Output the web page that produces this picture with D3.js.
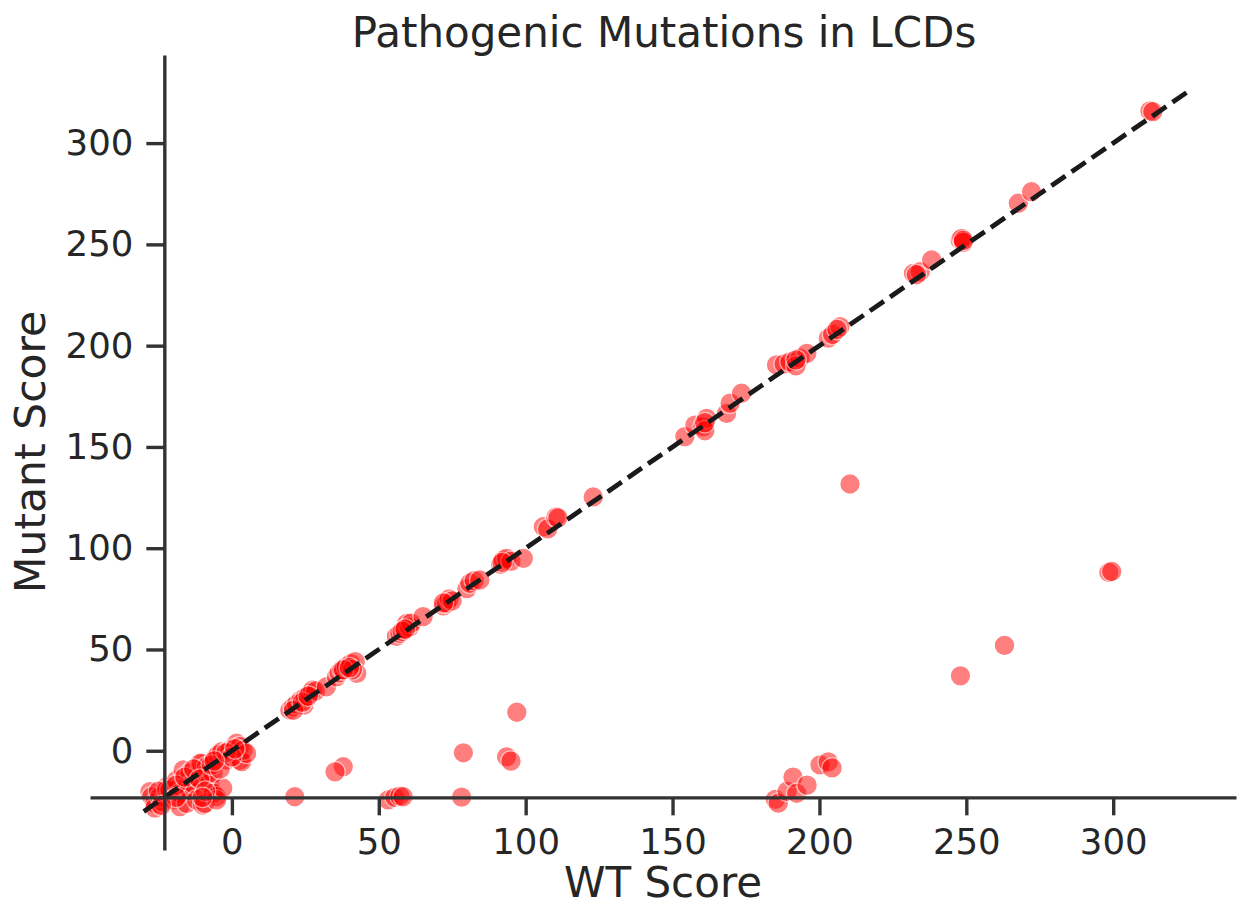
<!DOCTYPE html>
<html>
<head>
<meta charset="utf-8">
<script src="https://cdn.jsdelivr.net/npm/d3@7"></script>
<style>
  html, body { margin: 0; padding: 0; background: #fff; }
  svg { display: block; font-family: "DejaVu Sans", sans-serif; }
</style>
</head>
<body>
<svg id="chart" width="1238" height="907"></svg>
<script>
// ---- data ----
const wtScore = [
  -27.9, -27.3, -26.2, -26.2, -24.5, -23.5, -22.2, -22.2, -21.1, -20, -18.8, -17.7, -17.7, -16.6, -15.4, -15.4,
  -14.3, -14.3, -13.2, -12, -12, -10.9, -10.4, -9.9, -9.2, -8.6, -8.6, -7.5, -6.4, -6.4, -5.8, -5.2, -5.2, -4.8,
  -3.5, -3.1, -1.8, -0.7, 1.6, 2.7, 2.7, 3.3, 3.8, 5,
  -25, -19, -16, -13, -11, -9, -7, -4, -2, 0, -19, -24, -10, -6, 1,
  19.7, 20.9, 22, 23.5, 24.5, 25, 26.6, 27.5, 28.5, 32.2, 35.6, 36.5, 37.5, 39, 40.5, 42, 42.5, 41,
  21, 24, 26, 38, 40,
  56, 57.2, 58.5, 59.5, 60.5, 61, 65.1, 72, 73.1, 74, 75, 80, 81, 82.5, 84.4, 91.5, 92.4, 93.5, 95, 99.2,
  58, 59, 72, 92,
  106, 107.5, 110.3, 111, 123,
  154.2, 157.6, 160.4, 161.6, 161, 168.4, 169.6, 173.5, 185.4, 188, 190, 193.4, 195.7, 192, 203, 204.5, 207, 206,
  161, 192,
  232, 234.3, 238.2, 247.9, 248.5, 249, 267.7, 272.2, 312.5, 313.5,
  233, 249,
  210.4, 298.5, 299.5, 263, 248, 97, 78.8, 93.5, 95, 37.9, 35.1, 21.4, 53.2, 55.5, 57.2, 58.3, 78.2,
  185, 186, 189, 191, 192.3, 195.8, 200.2, 203, 204.3
];
const mutantScore = [
  -20.2, -22.7, -25.9, -28.3, -22.7, -25.2, -17.8, -19.4, -19.4, -24.3, -14.5, -21, -27.6, -9.5, -17.8, -26,
  -11, -19.4, -16.1, -12.8, -24.3, -6.1, -6.2, -26.8, -26, -7.9, -11.2, -16.1, -11.2, -20.9, -3.8, -22.7, -24.3, -2.1,
  -0.5, -18.4, -4.6, 0.3, 3.7, 2, -4.6, -5.4, 0.3, -1.3,
  -20, -17, -13, -9, -14, -20, -7, -9, -1, -3, -23, -27, -23, -5, 1,
  20.1, 21.7, 23, 25, 22.5, 26.5, 28.5, 30, 29.5, 31.6, 36.5, 38.5, 40, 41.5, 43, 44, 38.2, 40,
  20, 24, 27, 40, 41,
  56.5, 58, 60, 62.9, 61, 63, 66.2, 71.5, 72.8, 75, 74, 80, 82.7, 84, 84.3, 92, 94.2, 95, 93.5, 95,
  59, 60, 73, 93,
  110.6, 109.5, 115.4, 115, 125.3,
  155.1, 160.8, 160, 164.1, 158, 166.6, 171.6, 176.5, 190.5, 191, 192, 193.8, 196.2, 190, 203.7, 205.5, 209.4, 208,
  162, 193,
  235.7, 236.5, 242.3, 252.2, 253, 251, 270.3, 276, 315.9, 315.5,
  235, 252,
  131.7, 88, 88.5, 52, 37, 19, -1, -3, -5.1, -7.9, -10.4, -22.7, -24.3, -23, -22.4, -22.7, -22.9,
  -24, -25.9, -20, -13, -21, -17, -7, -5.5, -8.5
];
const xTicks = [0, 50, 100, 150, 200, 250, 300];
const yTicks = [0, 50, 100, 150, 200, 250, 300];
const xDomain = [-48.3, 341.8];
const yDomain = [-49, 343.5];
const spineAt = [-23, -23];      // where the axis lines cross (data units)
const refLine = [-30, 325];      // y = x reference line extent
const titleText = "Pathogenic Mutations in LCDs";
const xLabel = "WT Score";
const yLabel = "Mutant Score";

// ---- drawing ----
const svg = d3.select("#chart");
const x = d3.scaleLinear().domain(xDomain).range([90, 1236]);
const y = d3.scaleLinear().domain(yDomain).range([850, 55]);
const ink = "#262626";
const spineColor = "#333333";

const points = wtScore.map((w, i) => ({ w, m: mutantScore[i] }));

svg.append("g")
  .selectAll("circle")
  .data(points)
  .join("circle")
  .attr("cx", d => x(d.w))
  .attr("cy", d => y(d.m))
  .attr("r", 10.3)
  .attr("fill", "red")
  .attr("stroke", "white")
  .attr("stroke-width", 1.3)
  .attr("opacity", 0.5);

// reference line
svg.append("line")
  .attr("x1", x(refLine[0])).attr("y1", y(refLine[0]))
  .attr("x2", x(refLine[1])).attr("y2", y(refLine[1]))
  .attr("stroke", "#1a1a1a")
  .attr("stroke-width", 4.8)
  .attr("stroke-dasharray", "17,7.5");

// axes
const xAxis = svg.append("g")
  .attr("transform", `translate(0,${y(spineAt[1])})`)
  .call(d3.axisBottom(x).tickValues(xTicks).tickSize(18).tickSizeOuter(0).tickPadding(13).tickFormat(d3.format("d")));
const yAxis = svg.append("g")
  .attr("transform", `translate(${x(spineAt[0])},0)`)
  .call(d3.axisLeft(y).tickValues(yTicks).tickSize(18).tickSizeOuter(0).tickPadding(13).tickFormat(d3.format("d")));

[xAxis, yAxis].forEach(g => {
  g.select(".domain").attr("stroke", spineColor).attr("stroke-width", 3.4);
  g.selectAll(".tick line").attr("stroke", spineColor).attr("stroke-width", 3.4);
  g.selectAll(".tick text")
    .attr("fill", ink)
    .style("font-size", "35.5px")
    .style("font-family", "DejaVu Sans, sans-serif");
});

// labels
svg.append("text")
  .attr("x", 663).attr("y", 897)
  .attr("text-anchor", "middle")
  .attr("fill", ink)
  .style("font-size", "42px")
  .text(xLabel);

svg.append("text")
  .attr("transform", `translate(45,452) rotate(-90)`)
  .attr("text-anchor", "middle")
  .attr("fill", ink)
  .style("font-size", "42.5px")
  .text(yLabel);

svg.append("text")
  .attr("x", 664).attr("y", 47)
  .attr("text-anchor", "middle")
  .attr("fill", ink)
  .style("font-size", "42px")
  .text(titleText);
</script>
</body>
</html>
